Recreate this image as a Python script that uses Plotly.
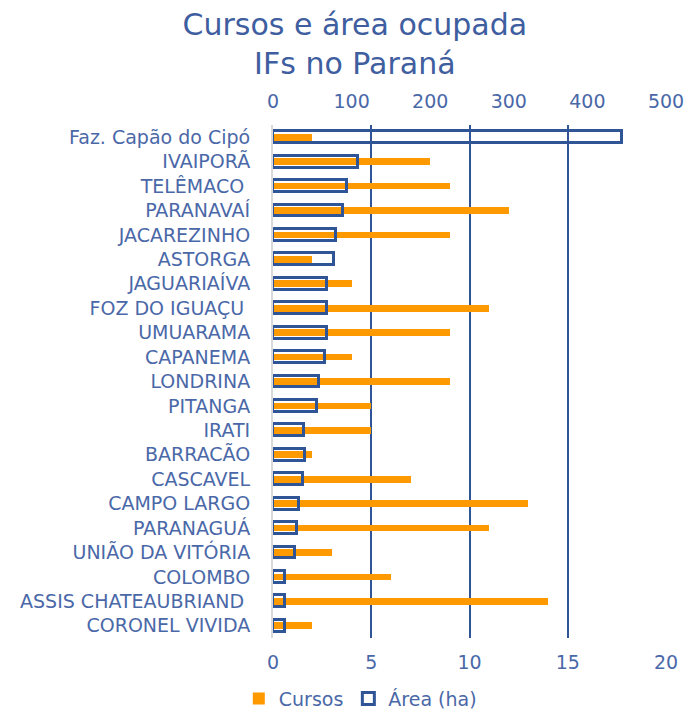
import plotly.graph_objects as go

campus = ["Faz. Capão do Cipó", "IVAIPORÃ", "TELÊMACO ", "PARANAVAÍ", "JACAREZINHO",
          "ASTORGA", "JAGUARIAÍVA", "FOZ DO IGUAÇU ", "UMUARAMA", "CAPANEMA",
          "LONDRINA", "PITANGA", "IRATI", "BARRACÃO", "CASCAVEL", "CAMPO LARGO",
          "PARANAGUÁ", "UNIÃO DA VITÓRIA", "COLOMBO", "ASSIS CHATEAUBRIAND ",
          "CORONEL VIVIDA"]
cursos = [2, 8, 9, 12, 9, 2, 4, 11, 9, 4, 9, 5, 5, 2, 7, 13, 11, 3, 6, 14, 2]
area_ha = [444, 108, 94, 89, 80, 78, 69, 69, 69, 66, 59, 56, 40, 41, 38, 33, 31, 28, 15, 15, 15]

cursos_ticks = [0, 5, 10, 15, 20]
area_ticks = [0, 100, 200, 300, 400, 500]

TXT = "#4a68a8"
BLUE = "#2f5597"
ORANGE = "#ff9900"
FONT = "DejaVu Sans"

fig = go.Figure()
fig.add_trace(go.Bar(
    y=campus, x=cursos, orientation="h", name="Cursos",
    marker=dict(color=ORANGE, line=dict(width=0)), width=0.27,
    xaxis="x", yaxis="y",
))
fig.add_trace(go.Bar(
    y=campus, x=area_ha, orientation="h", name="Área (ha)",
    marker=dict(color="rgba(0,0,0,0)", line=dict(color=BLUE, width=3)), width=0.49,
    xaxis="x2", yaxis="y",
))

fig.update_layout(
    width=689, height=710,
    margin=dict(l=273, r=23, t=125, b=72, autoexpand=False),
    paper_bgcolor="white", plot_bgcolor="white",
    font=dict(family=FONT, color=TXT, size=19),
    title=dict(text="Cursos e área ocupada<br>IFs no Paraná", x=0.515, xanchor="center",
               xref="container", yref="container", y=0.951, yanchor="middle",
               font=dict(size=30, color="#3f5e9f", family=FONT)),
    showlegend=True,
    legend=dict(orientation="h", x=-0.087, xanchor="left", y=-0.118, yanchor="middle",
                font=dict(size=19, color=TXT), traceorder="normal",
                bgcolor="rgba(0,0,0,0)"),
    bargap=0,
    xaxis=dict(range=[0, 20], tickvals=cursos_ticks, showgrid=True, gridcolor=BLUE,
               gridwidth=2, zeroline=False, showline=False, ticks="", side="bottom",
               ticklabelstandoff=11, fixedrange=True, automargin=False),
    xaxis2=dict(range=[0, 500], tickvals=area_ticks, overlaying="x", side="top",
                showgrid=False, zeroline=False, showline=False, ticks="",
                ticklabelstandoff=12, automargin=False),
    yaxis=dict(categoryorder="array", categoryarray=campus, autorange="reversed",
               showline=True, linecolor="#d9d9d9", linewidth=2, ticks="",
               showgrid=False, ticklabelstandoff=17, automargin=False),
)

fig.write_html("out.html", config={"displayModeBar": False},
               post_script="document.body.style.margin='0px';document.body.style.overflow='hidden';")
